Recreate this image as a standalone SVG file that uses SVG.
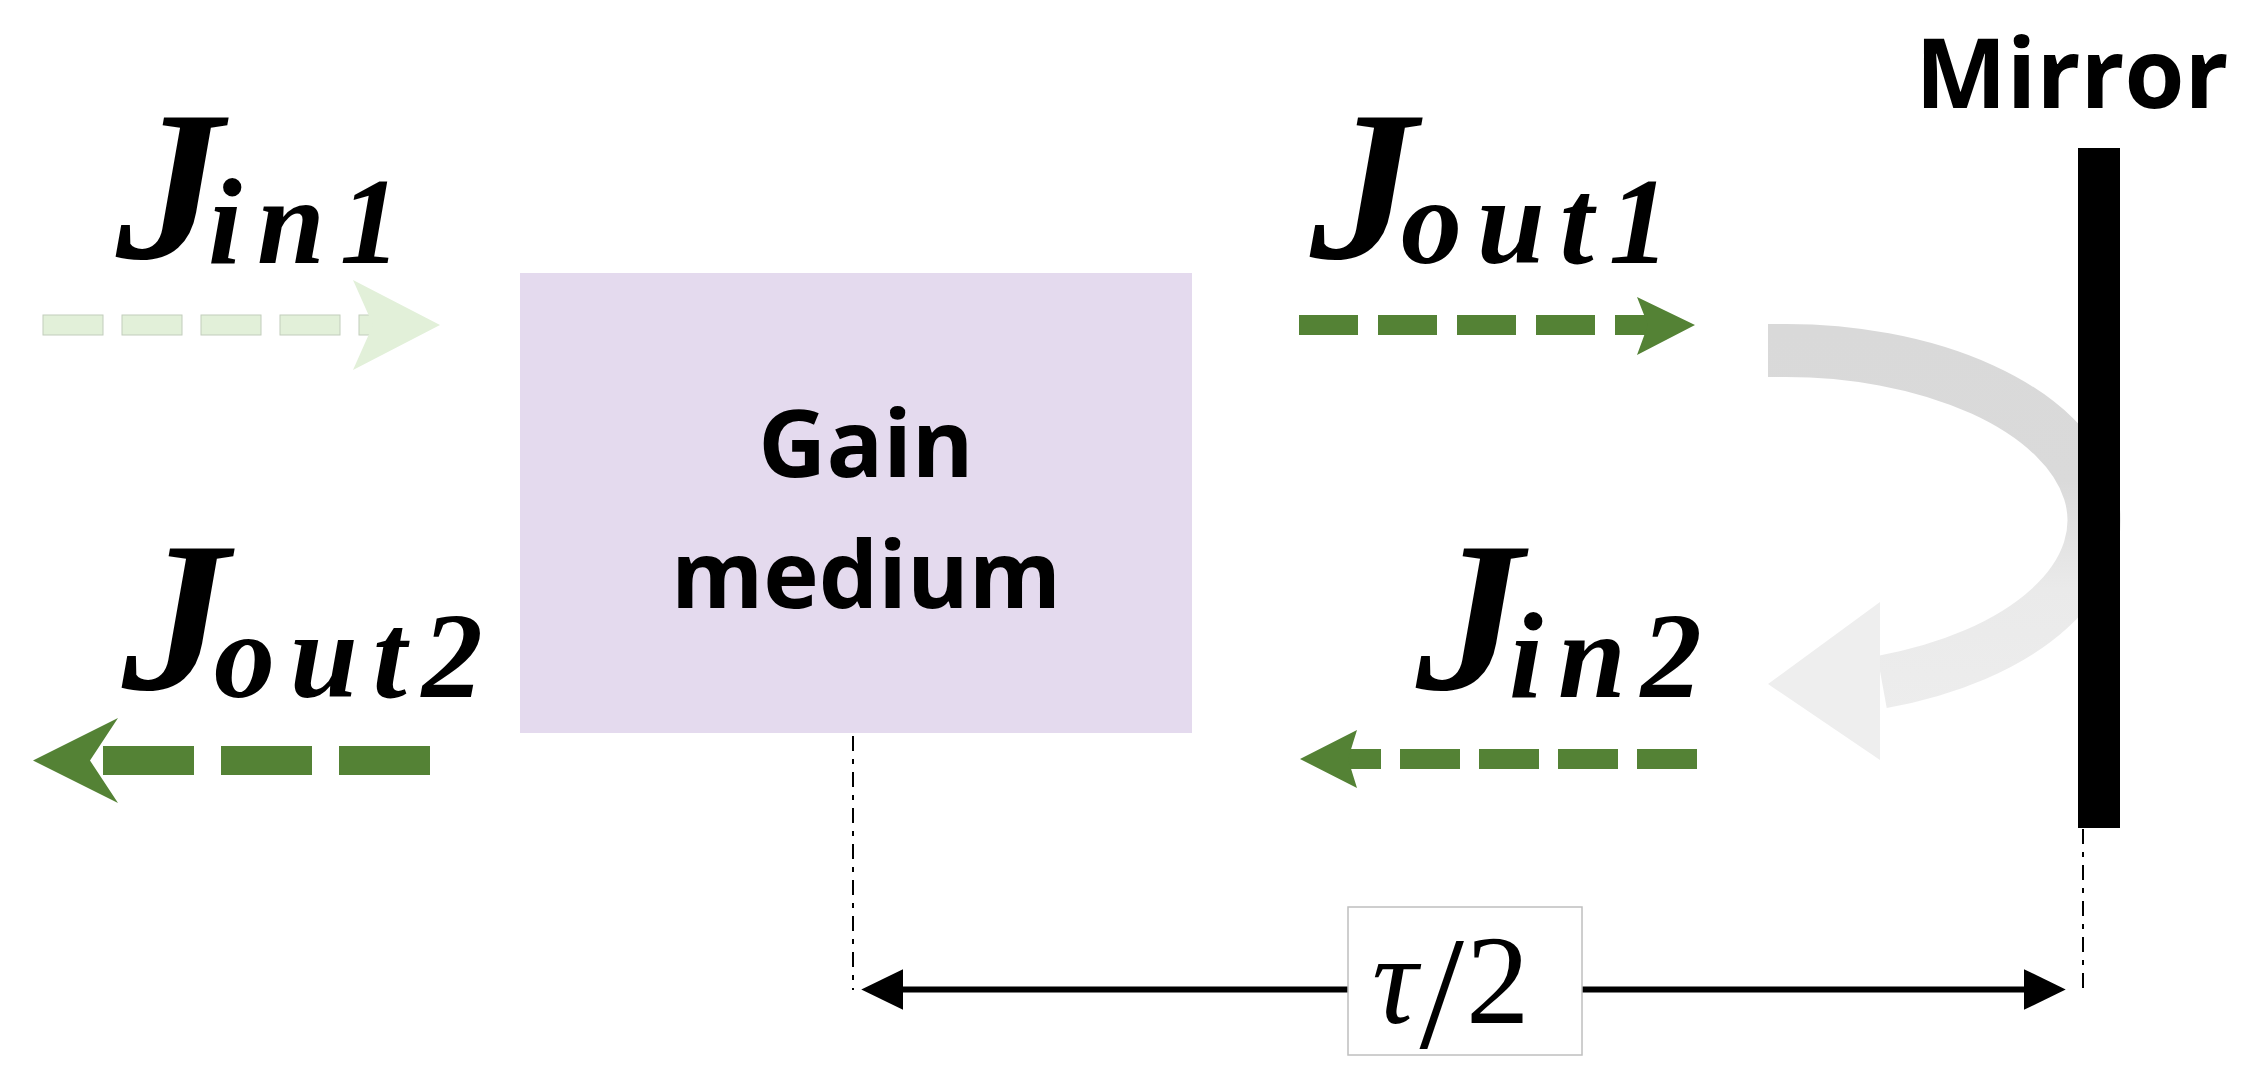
<svg xmlns="http://www.w3.org/2000/svg" width="2249" height="1084" viewBox="0 0 2249 1084">
  <style>
    .math { font-family: "Liberation Serif", "DejaVu Serif", serif; font-weight: bold; font-style: italic; fill: #000; font-size: 214px; }
    .sub { font-size: 122px; letter-spacing: 15px; }
    .sans { font-family: "Open Sans", "Noto Sans", "DejaVu Sans", sans-serif; font-weight: bold; fill: #000; }
    .green { stroke: #548235; fill: none; }
    .greenfill { fill: #548235; }
    .light { fill: #E2F0D9; stroke: #C2CDBC; stroke-width: 1; }
    .lighthead { fill: #E2F0D9; }
    .dim { stroke: #000; stroke-width: 6; fill: none; }
    .ext { stroke: #000; stroke-width: 2; stroke-dasharray: 15 8 5 8; fill: none; }
  </style>
  <defs>
    <marker id="dimhead" markerUnits="userSpaceOnUse" markerWidth="42" markerHeight="42" viewBox="0 0 41 40" refX="11" refY="20" orient="auto-start-reverse">
      <path d="M0 0 L41 20 L0 40 Z" fill="#000"/>
    </marker>
    <linearGradient id="arcgrad" gradientUnits="userSpaceOnUse" x1="0" y1="330" x2="0" y2="760">
      <stop offset="0" stop-color="#D9D9D9"/>
      <stop offset="0.35" stop-color="#DADADA"/>
      <stop offset="0.6" stop-color="#EAEAEA"/>
      <stop offset="1" stop-color="#EEEEEE"/>
    </linearGradient>
  </defs>

  <rect width="2249" height="1084" fill="#fff"/>

  <!-- Gain medium node -->
  <g id="gain-medium">
    <rect x="520" y="273" width="672" height="460" fill="#E4DAEE"/>
    <text class="sans" x="866" y="477" font-size="94" text-anchor="middle">Gain</text>
    <text class="sans" x="866" y="608" font-size="94" text-anchor="middle">medium</text>
  </g>

  <!-- reflection arc (behind mirror) -->
  <g id="reflection">
    <path d="M1768 350.5 L1780 350.5 A308 170 0 0 1 1882 682" stroke="url(#arcgrad)" stroke-width="53" fill="none"/>
    <polygon points="1880,602 1880,760 1768,684" fill="#EEEEEE"/>
  </g>

  <!-- Mirror node -->
  <g id="mirror">
    <rect x="2078" y="148" width="42" height="680" fill="#000"/>
    <text class="sans" x="2072" y="108" font-size="97" text-anchor="middle">Mirror</text>
  </g>

  <!-- Labels -->
  <g id="label-jin1">
    <text class="math" x="116" y="258">J<tspan class="sub" dx="-15" dy="5">in1</tspan></text>
  </g>
  <g id="label-jout1">
    <text class="math" x="1310" y="258">J<tspan class="sub" dx="-16" dy="5">out1</tspan></text>
  </g>
  <g id="label-jin2">
    <text class="math" x="1416" y="689">J<tspan class="sub" dx="-14" dy="8">in2</tspan></text>
  </g>
  <g id="label-jout2">
    <text class="math" x="122" y="689">J<tspan class="sub" dx="-15" dy="8">out2</tspan></text>
  </g>

  <!-- Connectors -->
  <g id="connectors">
    <!-- J_in1 (faded) -->
    <g id="arrow-jin1">
      <rect class="light" x="43" y="315" width="60" height="20"/>
      <rect class="light" x="122" y="315" width="60" height="20"/>
      <rect class="light" x="201" y="315" width="60" height="20"/>
      <rect class="light" x="280" y="315" width="60" height="20"/>
      <rect class="light" x="359" y="315" width="40" height="20"/>
      <polygon class="lighthead" points="353,280 440,325 353,370 373,325"/>
    </g>
    <!-- J_out1 -->
    <g id="arrow-jout1">
      <line class="green" x1="1299" y1="325" x2="1674" y2="325" stroke-width="20" stroke-dasharray="59 20"/>
      <polygon class="greenfill" points="1637,297 1695,325 1637,355 1648,325"/>
    </g>
    <!-- J_in2 -->
    <g id="arrow-jin2">
      <line class="green" x1="1697" y1="759" x2="1347" y2="759" stroke-width="20" stroke-dasharray="60 19"/>
      <polygon class="greenfill" points="1357,730 1300,759 1357,788 1348,759"/>
    </g>
    <!-- J_out2 -->
    <g id="arrow-jout2">
      <line class="green" x1="430" y1="760.5" x2="98" y2="760.5" stroke-width="29" stroke-dasharray="91 27"/>
      <polygon class="greenfill" points="118,718 33,760.5 118,803 90,760.5"/>
    </g>
    <!-- tau/2 dimension -->
    <g id="dimension">
      <line class="ext" x1="853" y1="736" x2="853" y2="990"/>
      <line class="ext" x1="2083" y1="829" x2="2083" y2="990"/>
      <line class="dim" x1="892" y1="989.5" x2="2035" y2="989.5" marker-start="url(#dimhead)" marker-end="url(#dimhead)"/>
    </g>
  </g>

  <g id="label-tau">
    <rect x="1348" y="907" width="234" height="148" fill="#fff" stroke="#BFBFBF" stroke-width="1.5"/>
    <text x="1372" y="1023" font-family="Liberation Serif, DejaVu Serif, serif" font-size="127" fill="#000"><tspan font-style="italic">τ</tspan><tspan dx="2" dy="24" font-size="160">/</tspan><tspan dx="2" dy="-24">2</tspan></text>
  </g>
</svg>
